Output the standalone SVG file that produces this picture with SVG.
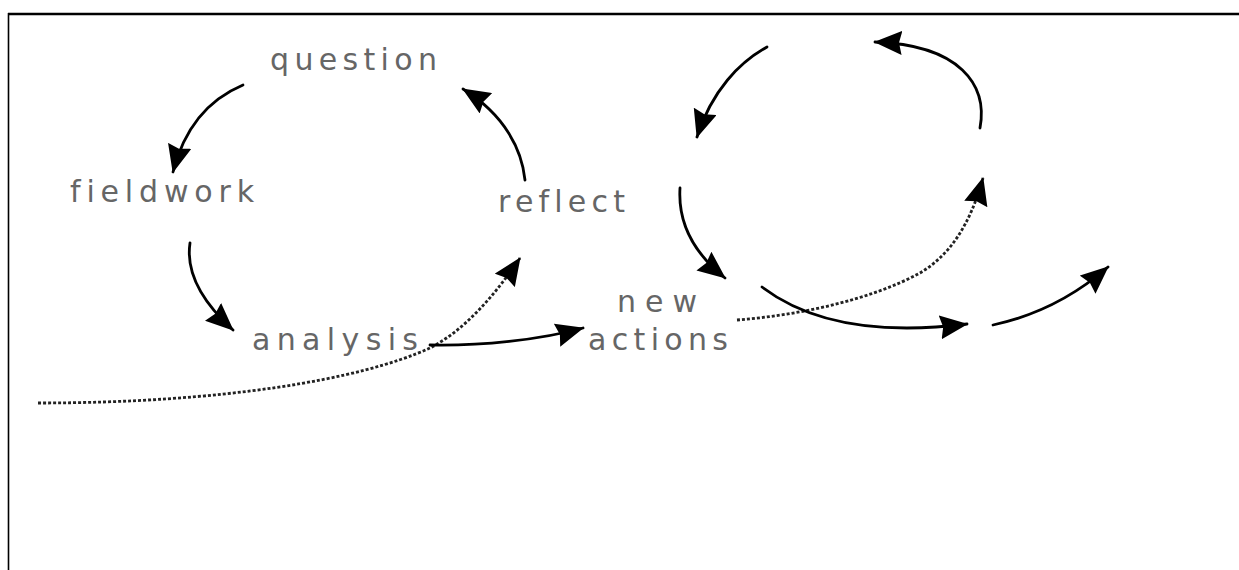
<svg xmlns="http://www.w3.org/2000/svg" width="1239" height="570" viewBox="0 0 1239 570">
  <style>
    .lbl { font-family: "DejaVu Sans", "Noto Sans", sans-serif; font-size: 30px; fill: #666; font-variant-ligatures: none; font-feature-settings: "liga" 0; }
    .arr { fill: none; stroke: #000; stroke-width: 2.8; stroke-linecap: round; marker-end: url(#head); }
    .dot { fill: none; stroke: #222; stroke-width: 2.8; stroke-dasharray: 3 2; marker-end: url(#head); }
  </style>
  <defs>
    <marker id="head" viewBox="0 0 28 24" refX="27" refY="12" markerWidth="28" markerHeight="24" markerUnits="userSpaceOnUse" orient="auto">
      <path d="M0,0 L28,12 L0,24 L3,12 Z" fill="#000"/>
    </marker>
  </defs>
  <rect width="1239" height="570" fill="#fff"/>
  <g id="frame" stroke="#000" fill="none">
    <line x1="8" y1="14" x2="1239" y2="14" stroke-width="2.4"/>
    <line x1="8.5" y1="13" x2="8.5" y2="570" stroke-width="1.6"/>
  </g>
  <g id="connectors">
    <path class="arr" d="M243,85 C212,98 185,125 173,172"/>
    <path class="arr" d="M190,243 C186,270 200,300 233,330"/>
    <path class="arr" d="M525,180 C522,150 505,115 463,89"/>
    <path class="dot" d="M38,403 C220,403 360,380 430,348 C465,330 495,295 520,258"/>
    <path class="arr" d="M430,345 C480,346 540,340 583,328"/>
    <path class="arr" d="M767,47 C740,62 712,90 697,137"/>
    <path class="arr" d="M980,128 C988,85 960,45 875,42"/>
    <path class="arr" d="M680,188 C678,220 690,250 725,278"/>
    <path class="dot" d="M737,320 C800,315 870,300 920,273 C950,255 970,225 983,178"/>
    <path class="arr" d="M762,287 C795,312 855,338 967,324"/>
    <path class="arr" d="M993,325 C1030,317 1070,300 1108,267"/>
  </g>
  <g id="question"><text class="lbl" x="270" y="70" textLength="167" lengthAdjust="spacing">question</text></g>
  <g id="fieldwork"><text class="lbl" x="70" y="202" textLength="184" lengthAdjust="spacing">fieldwork</text></g>
  <g id="reflect"><text class="lbl" x="498" y="212" textLength="127" lengthAdjust="spacing">reflect</text></g>
  <g id="analysis"><text class="lbl" x="252" y="350" textLength="166" lengthAdjust="spacing">analysis</text></g>
  <g id="new-actions">
    <text class="lbl" x="617" y="312" textLength="80" lengthAdjust="spacing">new</text>
    <text class="lbl" x="588" y="350" textLength="140" lengthAdjust="spacing">actions</text>
  </g>
</svg>
